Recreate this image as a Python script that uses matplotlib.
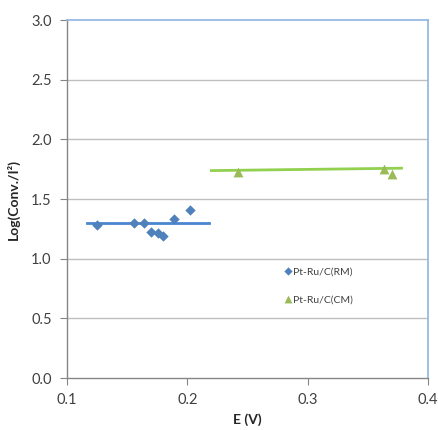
import matplotlib
matplotlib.use("Agg")
import matplotlib.pyplot as plt

# Data
rm_x = [0.125, 0.1555, 0.164, 0.170, 0.176, 0.1795, 0.189, 0.202]
rm_y = [1.282, 1.30, 1.30, 1.224, 1.215, 1.19, 1.33, 1.405]
cm_x = [0.2417, 0.3635, 0.370]
cm_y = [1.724, 1.749, 1.706]
rm_fit_x = [0.117, 0.218]
rm_fit_y = [1.30, 1.30]
cm_fit_x = [0.22, 0.378]
cm_fit_y = [1.738, 1.758]
x_ticks = [0.1, 0.2, 0.3, 0.4]
y_ticks = [0.0, 0.5, 1.0, 1.5, 2.0, 2.5, 3.0]
labels = ["Pt-Ru/C(RM)", "Pt-Ru/C(CM)"]

plt.rcParams['font.family'] = ['Lato', 'DejaVu Sans']

fig = plt.figure(figsize=(4.39, 4.30), dpi=100)
ax = fig.add_axes([67/439, 52/430, (428-67)/439, (378-20)/430])

grid_c = '#bfbfbf'
for yv in y_ticks[1:-1]:
    ax.axhline(yv, color=grid_c, lw=1.0, zorder=0)

ax.plot(rm_fit_x, rm_fit_y, color='#4a86d0', lw=2.0, zorder=2)
ax.plot(cm_fit_x, cm_fit_y, color='#92d050', lw=2.0, zorder=2)
ax.scatter(rm_x, rm_y, marker='D', s=28, color='#4f81bd', zorder=3,
           label=labels[0], linewidths=0)
ax.scatter(cm_x, cm_y, marker='^', s=50, color='#9bbb59', zorder=3,
           label=labels[1], linewidths=0)

ax.set_xlim(0.1, 0.4)
ax.set_ylim(0.0, 3.0)
ax.set_xticks(x_ticks)
ax.set_xticklabels([f"{v:.1f}" for v in x_ticks])
ax.set_yticks(y_ticks)
ax.set_yticklabels([f"{v:.1f}" for v in y_ticks])

for s in ['left', 'bottom']:
    ax.spines[s].set_color('#868686')
    ax.spines[s].set_linewidth(1.0)
for s in ['top', 'right']:
    ax.spines[s].set_color('#8eb4e3')
    ax.spines[s].set_linewidth(1.2)

ax.tick_params(axis='both', direction='out', length=5, color='#868686',
               labelsize=10.5, labelcolor='#404040', pad=6)

ax.set_xlabel('E (V)', fontsize=10, fontweight='bold', color='#262626', labelpad=4)
ax.set_ylabel('Log(Conv./I²)', fontsize=10, fontweight='bold', color='#262626', labelpad=8)

leg = ax.legend(loc='upper left', bbox_to_anchor=(0.591, 0.322), frameon=False,
                fontsize=7.5, handlelength=0.6, handletextpad=0.2,
                labelspacing=1.8, borderaxespad=0, markerscale=0.8)
for t in leg.get_texts():
    t.set_color('#404040')

fig.savefig('out.png', dpi=100)
